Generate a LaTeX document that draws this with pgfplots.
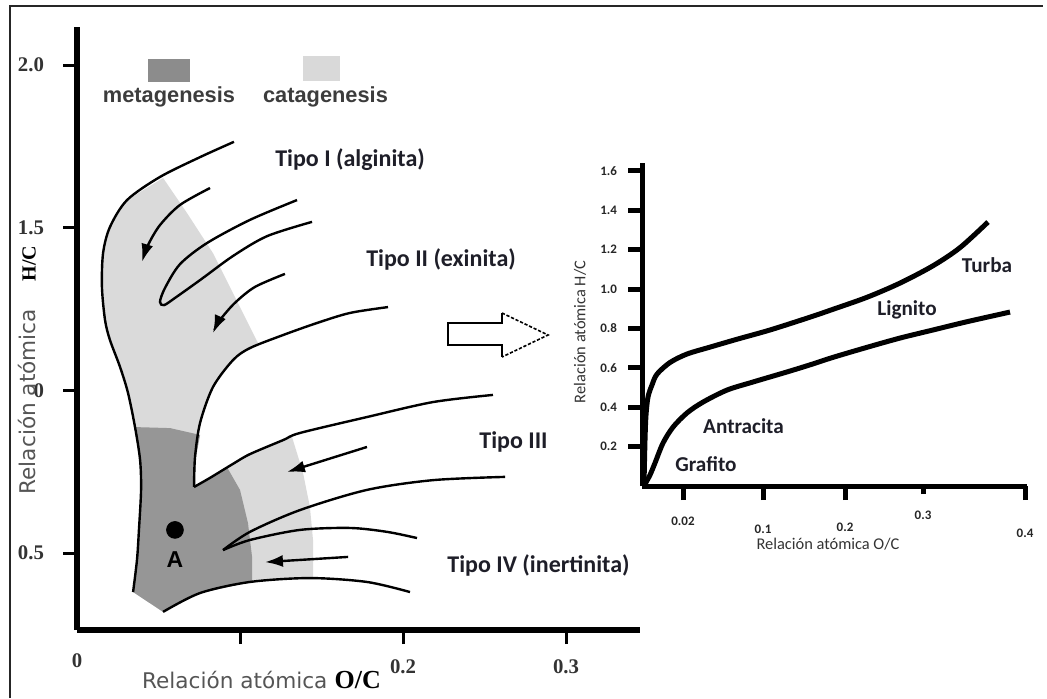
\documentclass[border=0pt]{standalone}
\usepackage{fontspec}
\usepackage{pgfplots}
\pgfplotsset{compat=1.18}
\usetikzlibrary{arrows.meta}
\newfontfamily\carlito{Carlito}
\newfontfamily\libsans{Liberation Sans}
\newfontfamily\libserif{Liberation Serif}
\newfontfamily\dejavu{DejaVu Sans}
\definecolor{catag}{HTML}{DADADA}
\definecolor{metag}{HTML}{969696}
\definecolor{swdark}{HTML}{8C8C8C}
\definecolor{swlight}{HTML}{D9D9D9}
\definecolor{inkc}{HTML}{1E1E28}
\definecolor{graytxt}{HTML}{555555}
\definecolor{legtxt}{HTML}{3C3C3C}
\newcommand\lowr[2]{\raisebox{-#1}[\height][\depth]{#2}}
\begin{document}
\begin{tikzpicture}
\useasboundingbox (0,0) rectangle (523.5pt,349pt);
\draw[line width=1pt, black!85] (5pt,0pt) -- (5pt,346pt) -- (521.5pt,346pt);

% ---------------- left: van Krevelen ----------------
\begin{axis}[
  at={(38.5pt,34pt)}, anchor=south west,
  x=815pt, y=162.65pt,
  xmin=0, xmax=0.3454, ymin=0.2633, ymax=2.117,
  axis x line*=bottom, axis y line*=left,
  axis line style={line width=3pt, black},
  xtick={0.1,0.2,0.3}, xticklabels={,0.2,0.3},
  extra x ticks={0}, extra x tick labels={0},
  extra x tick style={major tick length=0pt, tick label style={yshift=-4pt}},
  ytick={0.5,1,1.5,2}, yticklabels={0.5,\phantom{1.}0,1.5,2.0},
  tick align=outside, major tick length=7pt,
  xtick style={black, line width=1.5pt},
  ytick style={black, line width=1.5pt},
  /pgf/number format/assume math mode=true,
  tick label style={font=\libserif\bfseries\fontsize{10.4}{11}\selectfont, text=black!80},
  xticklabel style={yshift=-4.5pt},
  yticklabel style={xshift=-6pt},
  clip=false,
  xlabel={{\dejavu\color{graytxt}Relación atómica} {\libserif\bfseries\fontsize{13}{14}\selectfont O/C}},
  xlabel style={at={(axis description cs:0.3277,-0.0962)}, anchor=base, font=\fontsize{10.8}{12}\selectfont},
  ylabel={{\dejavu\color{graytxt}Relación atómica}\hspace{14pt}{\libserif\bfseries\fontsize{10}{11}\selectfont H/C}},
  ylabel style={at={(axis description cs:-0.0737,0.4312)}, anchor=base, font=\fontsize{10.8}{12}\selectfont},
]
% catagenesis + metagenesis area
\addplot[draw=none, fill=catag] coordinates {
 (0.0528,1.653) (0.0307,1.585) (0.0202,1.502) (0.0160,1.422) (0.0153,1.318)
 (0.0172,1.216) (0.0202,1.155) (0.0264,1.072) (0.0313,0.992) (0.0356,0.887)
 (0.0387,0.786) (0.0393,0.694) (0.0380,0.571) (0.0368,0.479) (0.0344,0.380)
 (0.0528,0.319) (0.0755,0.377) (0.1061,0.411) (0.1448,0.423) (0.1448,0.478)
 (0.1448,0.540) (0.1429,0.641) (0.1387,0.746) (0.1319,0.857) (0.1264,0.847)
 (0.1061,0.804) (0.0957,0.774) (0.0816,0.731) (0.0718,0.703) (0.0724,0.795)
 (0.0755,0.900) (0.0834,1.010) (0.0957,1.093) (0.1061,1.130) (0.1110,1.146)
 (0.1080,1.176) (0.0957,1.299) (0.0834,1.422) (0.0675,1.545)} -- cycle;
\addplot[draw=none, fill=metag] coordinates {
 (0.0362,0.887) (0.0571,0.884) (0.0755,0.863) (0.0730,0.795) (0.0718,0.703)
 (0.0816,0.731) (0.0920,0.764) (0.1000,0.694) (0.1049,0.592) (0.1074,0.488)
 (0.1074,0.411) (0.0755,0.377) (0.0528,0.319) (0.0344,0.380) (0.0368,0.479)
 (0.0380,0.571) (0.0393,0.694) (0.0387,0.786)} -- cycle;
% curves
\addplot[black, line width=1.2pt, smooth] coordinates {
 (0.0963,1.764) (0.0755,1.717) (0.0509,1.656) (0.0307,1.585) (0.0202,1.502)
 (0.0160,1.422) (0.0153,1.318) (0.0172,1.216) (0.0202,1.155) (0.0264,1.072)
 (0.0313,0.992) (0.0356,0.887) (0.0387,0.786) (0.0393,0.694) (0.0380,0.571)
 (0.0368,0.479) (0.0344,0.380)};
\addplot[black, line width=1.2pt, smooth, -{Latex[length=9pt,width=6pt]}] coordinates {
 (0.0816,1.622) (0.0632,1.570) (0.0509,1.508) (0.0436,1.447) (0.0399,1.395)};
\addplot[black, line width=1.2pt, smooth] coordinates {
 (0.1350,1.585) (0.1061,1.524) (0.0798,1.453) (0.0632,1.388) (0.0540,1.315)
 (0.0509,1.272) (0.0534,1.262) (0.0601,1.284) (0.0755,1.339) (0.0957,1.413)
 (0.1166,1.474) (0.1442,1.518)};
\addplot[black, line width=1.2pt, smooth, -{Latex[length=9pt,width=6pt]}] coordinates {
 (0.1276,1.358) (0.1092,1.318) (0.0969,1.269) (0.0877,1.216) (0.0834,1.176)};
\addplot[black, line width=1.2pt, smooth] coordinates {
 (0.1908,1.256) (0.1675,1.238) (0.1472,1.207) (0.1264,1.170) (0.1061,1.130)
 (0.0957,1.093) (0.0834,1.010) (0.0755,0.900) (0.0724,0.795) (0.0718,0.703)};
\addplot[black, line width=1.2pt, smooth] coordinates {
 (0.0718,0.703) (0.0816,0.731) (0.0957,0.774) (0.1061,0.804) (0.1264,0.847)
 (0.1368,0.869) (0.1779,0.918) (0.2184,0.964) (0.2552,0.986)};
\addplot[black, line width=1.2pt, smooth] coordinates {
 (0.2626,0.734) (0.2184,0.724) (0.1779,0.694) (0.1368,0.632) (0.1061,0.565) (0.0896,0.509)};
\addplot[black, line width=1.2pt, smooth] coordinates {
 (0.0896,0.509) (0.1061,0.540) (0.1368,0.571) (0.1675,0.577) (0.1902,0.565) (0.2086,0.546)};
\addplot[black, line width=1.2pt, smooth] coordinates {
 (0.0528,0.319) (0.0755,0.377) (0.1061,0.411) (0.1429,0.423) (0.1779,0.411) (0.2043,0.380)};
\addplot[black, line width=1.2pt, -{Latex[length=9pt,width=6pt]}] coordinates {
 (0.1779,0.826) (0.1288,0.749)};
\addplot[black, line width=1.2pt, -{Latex[length=9pt,width=6pt]}] coordinates {
 (0.1663,0.488) (0.1153,0.472)};
\addplot[only marks, mark=*, mark size=4.2pt, black] coordinates {(0.0601,0.571)};
\end{axis}

% ---------------- right: coal series ----------------
\begin{axis}[
  at={(321pt,106pt)}, anchor=south west,
  x=50pt, y=98.5pt,
  xmin=0, xmax=3.85, ymin=0, ymax=1.64,
  axis x line*=bottom, axis y line*=left,
  axis line style={line width=2.5pt, black},
  xtick={0.41,1.21,2.03,3.83},
  xticklabels={0.02,\lowr{4pt}{0.1},\lowr{3pt}{0.2},\lowr{6pt}{0.4}},
  extra x ticks={2.81}, extra x tick labels={0.3},
  extra x tick style={major tick length=4pt},
  ytick={0.2,0.4,0.6,0.8,1.0,1.2,1.4,1.6},
  yticklabels={0.2,0.4,0.6,0.8,1.0,1.2,1.4,1.6},
  tick align=outside,
  major tick length=7pt,
  xtick style={black, line width=2.5pt},
  ytick style={black, line width=2.5pt},
  /pgf/number format/assume math mode=true,
  tick label style={font=\carlito\bfseries\fontsize{6.5}{7}\selectfont, text=black!85},
  xticklabel style={yshift=-4.8pt},
  yticklabel style={xshift=-2pt},
  clip=false,
  xlabel={Relación atómica O/C},
  xlabel style={at={(axis description cs:0.483,-0.18)}, anchor=center, font=\carlito\fontsize{8.2}{9}\selectfont, text=black!80},
  ylabel={Relación atómica H/C},
  ylabel style={at={(axis description cs:-0.161,0.477)}, anchor=center, font=\carlito\fontsize{8.2}{9}\selectfont, text=black!80},
]
\addplot[black, line width=2.5pt, smooth] coordinates {
 (0.02,0.010) (0.03,0.234) (0.04,0.360) (0.06,0.452) (0.10,0.513) (0.15,0.568)
 (0.28,0.627) (0.45,0.670) (0.68,0.705) (0.95,0.745) (1.28,0.792) (1.68,0.857)
 (1.91,0.897) (2.25,0.958) (2.58,1.030) (2.91,1.118) (3.18,1.210) (3.46,1.340)};
\addplot[black, line width=2.5pt, smooth] coordinates {
 (0.03,0.010) (0.08,0.056) (0.13,0.117) (0.21,0.218) (0.31,0.299) (0.45,0.371)
 (0.61,0.426) (0.85,0.487) (1.11,0.528) (1.45,0.579) (1.68,0.615) (1.91,0.653)
 (2.25,0.704) (2.58,0.751) (2.91,0.792) (3.25,0.834) (3.68,0.883)};
\end{axis}

% block arrow between the charts
\draw[line width=0.8pt, fill=white] (251pt,192.5pt) -- (251pt,187.5pt) -- (224pt,187.5pt) -- (224pt,176.5pt) -- (251pt,176.5pt) -- (251pt,170.5pt);
\draw[line width=0.8pt, dash pattern=on 1.6pt off 0.9pt] (251pt,192.5pt) -- (274pt,181.5pt) -- (251pt,170.5pt);

% legend swatches
\fill[swdark] (74pt,308pt) rectangle (95pt,319.5pt);
\fill[swlight] (151.5pt,308.5pt) rectangle (170pt,321pt);
\node[anchor=base, inner sep=0pt, text=legtxt, font=\libsans\bfseries\fontsize{10.9}{12}\selectfont] at (84.5pt,298pt) {metagenesis};
\node[anchor=base, inner sep=0pt, text=legtxt, font=\libsans\bfseries\fontsize{10.9}{12}\selectfont] at (162.75pt,298pt) {catagenesis};

% type labels
\begin{scope}[every node/.style={anchor=base, inner sep=0pt, text=inkc, font=\carlito\bfseries\fontsize{12}{13}\selectfont}]
\node at (175pt,265.6pt) {Tipo I (alginita)};
\node at (220.5pt,215.6pt) {Tipo II (exinita)};
\node at (256.75pt,125pt) {Tipo III};
\node at (269.25pt,62.7pt) {Tipo IV (inertinita)};
\end{scope}
\node[anchor=base, inner sep=0pt, font=\libsans\bfseries\fontsize{11.5}{12}\selectfont] at (87.5pt,65.5pt) {A};

\begin{scope}[every node/.style={anchor=base, inner sep=0pt, text=inkc, font=\carlito\bfseries\fontsize{10.6}{12}\selectfont}]
\node at (493.5pt,213pt) {Turba};
\node at (453.5pt,191.2pt) {Lignito};
\node at (371.75pt,132.5pt) {Antracita};
\node at (353pt,113.2pt) {Grafito};
\end{scope}
\end{tikzpicture}
\end{document}
